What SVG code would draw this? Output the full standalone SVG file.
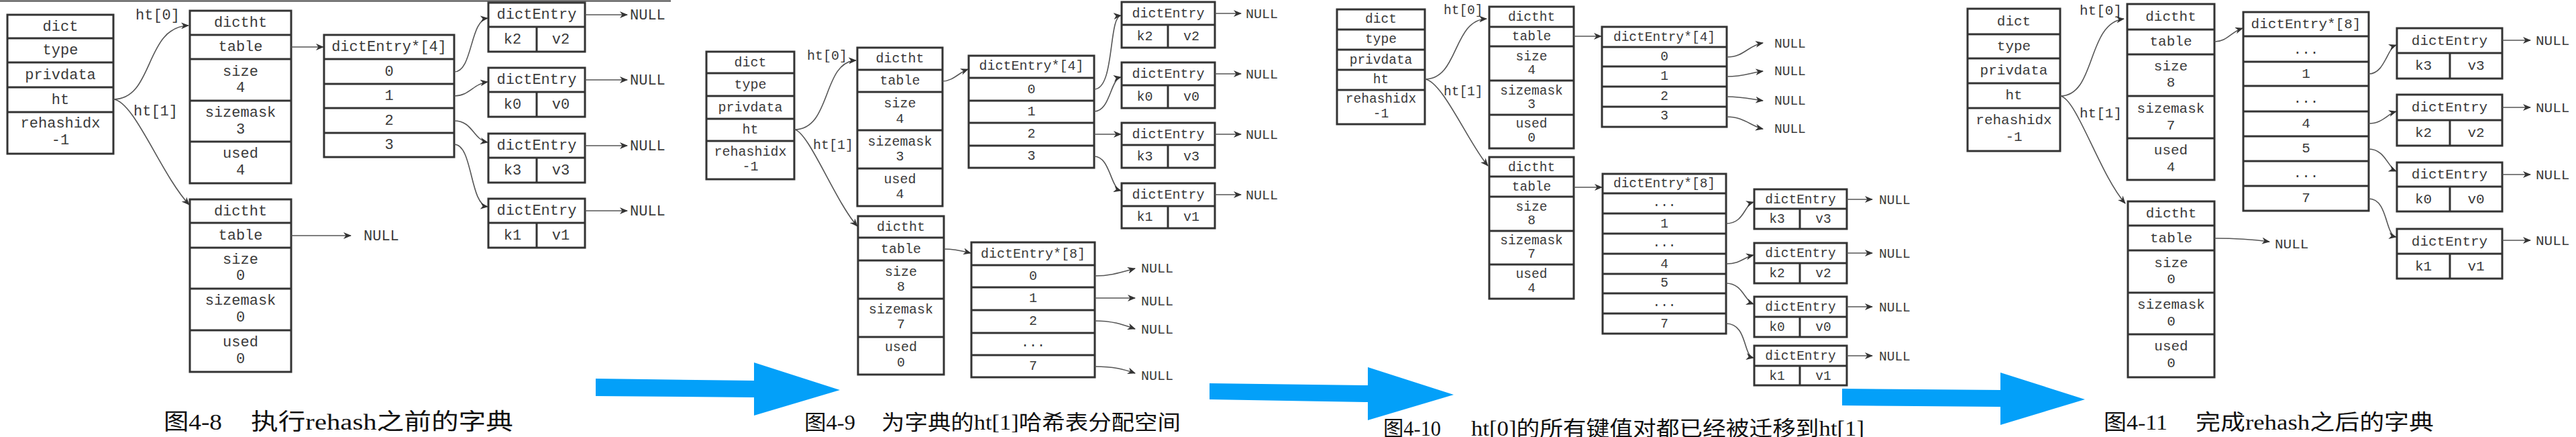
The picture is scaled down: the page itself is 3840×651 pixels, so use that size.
<svg xmlns="http://www.w3.org/2000/svg" width="3840" height="651" viewBox="0 0 3840 651">
<defs>
<style>
.bx{fill:#fff;stroke:#333;stroke-width:3}
.sp{fill:none;stroke:#333;stroke-width:3}
.m{font-family:"Liberation Mono","DejaVu Sans Mono",monospace;fill:#3a3a3a;text-anchor:middle}
.s{text-anchor:start}
.f1{font-size:22px}.f2{font-size:20px}.f3{font-size:19.5px}.f4{font-size:21px}
.c{fill:none;stroke:#555;stroke-width:1.6;marker-end:url(#ah)}
.cap{font-family:"Liberation Serif","Noto Sans CJK SC",serif;fill:#111}
.blue{fill:#03A0F9}
</style>
<marker id="ah" viewBox="0 0 12 10" refX="11" refY="5" markerWidth="12" markerHeight="10" markerUnits="userSpaceOnUse" orient="auto"><path d="M0,0L12,5L0,10L3.5,5z" fill="#333"/></marker>
</defs>
<rect width="3840" height="651" fill="#fff"/>
<line x1="0" y1="1.5" x2="1000" y2="1.5" stroke="#444" stroke-width="2"/>

<!-- Panel 1 -->
<g id="p1-dict" class="m f1">
<rect class="bx" x="11" y="22" width="158" height="207"/>
<path class="sp" d="M11,57H169M11,93H169M11,130H169M11,167H169"/>
<text x="90" y="46">dict</text><text x="90" y="81">type</text><text x="90" y="118">privdata</text><text x="90" y="155">ht</text><text x="90" y="190">rehashidx</text><text x="90" y="215">-1</text>
</g>
<g id="p1-ht0" class="m f1">
<rect class="bx" x="283" y="16" width="151" height="257"/>
<path class="sp" d="M283,52H434M283,88H434M283,150H434M283,211H434"/>
<text x="358.5" y="40">dictht</text><text x="358.5" y="76">table</text><text x="358.5" y="113">size</text><text x="358.5" y="137">4</text><text x="358.5" y="174">sizemask</text><text x="358.5" y="199">3</text><text x="358.5" y="235">used</text><text x="358.5" y="260">4</text>
</g>
<g id="p1-ht1" class="m f1">
<rect class="bx" x="283" y="297" width="151" height="257"/>
<path class="sp" d="M283,332H434M283,369H434M283,430H434M283,492H434"/>
<text x="358.5" y="321">dictht</text><text x="358.5" y="357">table</text><text x="358.5" y="393">size</text><text x="358.5" y="417">0</text><text x="358.5" y="454">sizemask</text><text x="358.5" y="479">0</text><text x="358.5" y="516">used</text><text x="358.5" y="541">0</text>
</g>
<g id="p1-tab4" class="m f1">
<rect class="bx" x="483" y="52" width="194" height="182"/>
<path class="sp" d="M483,88H677M483,125H677M483,161H677M483,198H677"/>
<text x="580" y="76">dictEntry*[4]</text><text x="580" y="113">0</text><text x="580" y="149">1</text><text x="580" y="186">2</text><text x="580" y="222">3</text>
</g>
<g id="p1-e1" class="m f1">
<rect class="bx" x="728" y="4" width="144" height="73"/><path class="sp" d="M728,40H872M800,40V77"/>
<text x="800" y="28">dictEntry</text><text x="764" y="65">k2</text><text x="836" y="65">v2</text>
</g>
<g id="p1-e2" class="m f1">
<rect class="bx" x="728" y="101" width="144" height="73"/><path class="sp" d="M728,137H872M800,137V174"/>
<text x="800" y="125">dictEntry</text><text x="764" y="162">k0</text><text x="836" y="162">v0</text>
</g>
<g id="p1-e3" class="m f1">
<rect class="bx" x="728" y="199" width="144" height="73"/><path class="sp" d="M728,235H872M800,235V272"/>
<text x="800" y="223">dictEntry</text><text x="764" y="260">k3</text><text x="836" y="260">v3</text>
</g>
<g id="p1-e4" class="m f1">
<rect class="bx" x="728" y="296" width="144" height="73"/><path class="sp" d="M728,332H872M800,332V369"/>
<text x="800" y="320">dictEntry</text><text x="764" y="357">k1</text><text x="836" y="357">v1</text>
</g>

<!-- Panel 2 -->
<g id="p2-dict" class="m f2">
<rect class="bx" x="1053" y="77" width="131" height="190"/>
<path class="sp" d="M1053,109H1184M1053,143H1184M1053,177H1184M1053,210H1184"/>
<text x="1118.5" y="99">dict</text><text x="1118.5" y="132">type</text><text x="1118.5" y="166">privdata</text><text x="1118.5" y="199">ht</text><text x="1118.5" y="232">rehashidx</text><text x="1118.5" y="254">-1</text>
</g>
<g id="p2-ht0" class="m f2">
<rect class="bx" x="1278" y="71" width="127" height="236"/>
<path class="sp" d="M1278,104H1405M1278,137H1405M1278,194H1405M1278,251H1405"/>
<text x="1341.5" y="93">dictht</text><text x="1341.5" y="126">table</text><text x="1341.5" y="160">size</text><text x="1341.5" y="183">4</text><text x="1341.5" y="217">sizemask</text><text x="1341.5" y="239">3</text><text x="1341.5" y="273">used</text><text x="1341.5" y="295">4</text>
</g>
<g id="p2-ht1" class="m f2">
<rect class="bx" x="1279" y="322" width="128" height="236"/>
<path class="sp" d="M1279,354H1407M1279,388H1407M1279,445H1407M1279,502H1407"/>
<text x="1343" y="344">dictht</text><text x="1343" y="377">table</text><text x="1343" y="411">size</text><text x="1343" y="433">8</text><text x="1343" y="467">sizemask</text><text x="1343" y="489">7</text><text x="1343" y="523">used</text><text x="1343" y="546">0</text>
</g>
<g id="p2-tab4" class="m f2">
<rect class="bx" x="1444" y="83" width="187" height="167"/>
<path class="sp" d="M1444,116H1631M1444,150H1631M1444,183H1631M1444,217H1631"/>
<text x="1537.5" y="104">dictEntry*[4]</text><text x="1537.5" y="139">0</text><text x="1537.5" y="172">1</text><text x="1537.5" y="205">2</text><text x="1537.5" y="238">3</text>
</g>
<g id="p2-tab8" class="m f2">
<rect class="bx" x="1448" y="361" width="184" height="201"/>
<path class="sp" d="M1448,395H1632M1448,428H1632M1448,462H1632M1448,496H1632M1448,529H1632"/>
<text x="1540" y="384">dictEntry*[8]</text><text x="1540" y="417">0</text><text x="1540" y="450">1</text><text x="1540" y="484">2</text><text x="1540" y="516">...</text><text x="1540" y="551">7</text>
</g>
<g id="p2-e1" class="m f2">
<rect class="bx" x="1672" y="3" width="139" height="68"/><path class="sp" d="M1672,37H1811M1741,37V71"/>
<text x="1741.5" y="26">dictEntry</text><text x="1706.5" y="60">k2</text><text x="1776" y="60">v2</text>
</g>
<g id="p2-e2" class="m f2">
<rect class="bx" x="1672" y="93" width="139" height="68"/><path class="sp" d="M1672,127H1811M1741,127V161"/>
<text x="1741.5" y="116">dictEntry</text><text x="1706.5" y="150">k0</text><text x="1776" y="150">v0</text>
</g>
<g id="p2-e3" class="m f2">
<rect class="bx" x="1672" y="183" width="139" height="67"/><path class="sp" d="M1672,216H1811M1741,216V250"/>
<text x="1741.5" y="206">dictEntry</text><text x="1706.5" y="239">k3</text><text x="1776" y="239">v3</text>
</g>
<g id="p2-e4" class="m f2">
<rect class="bx" x="1672" y="273" width="139" height="67"/><path class="sp" d="M1672,307H1811M1741,307V340"/>
<text x="1741.5" y="296">dictEntry</text><text x="1706.5" y="329">k1</text><text x="1776" y="329">v1</text>
</g>

<!-- Panel 3 -->
<g id="p3-dict" class="m f3">
<rect class="bx" x="1993" y="14" width="131" height="171"/>
<path class="sp" d="M1993,44H2124M1993,74H2124M1993,104H2124M1993,134H2124"/>
<text x="2058.5" y="34">dict</text><text x="2058.5" y="64">type</text><text x="2058.5" y="95">privdata</text><text x="2058.5" y="124">ht</text><text x="2058.5" y="153">rehashidx</text><text x="2058.5" y="175">-1</text>
</g>
<g id="p3-ht0" class="m f3">
<rect class="bx" x="2220" y="10" width="126" height="211"/>
<path class="sp" d="M2220,40H2346M2220,69H2346M2220,120H2346M2220,171H2346"/>
<text x="2283" y="31">dictht</text><text x="2283" y="60">table</text><text x="2283" y="90">size</text><text x="2283" y="110">4</text><text x="2283" y="141">sizemask</text><text x="2283" y="161">3</text><text x="2283" y="190">used</text><text x="2283" y="211">0</text>
</g>
<g id="p3-ht1" class="m f3">
<rect class="bx" x="2220" y="234" width="126" height="211"/>
<path class="sp" d="M2220,263H2346M2220,293H2346M2220,344H2346M2220,394H2346"/>
<text x="2283" y="255">dictht</text><text x="2283" y="284">table</text><text x="2283" y="314">size</text><text x="2283" y="334">8</text><text x="2283" y="364">sizemask</text><text x="2283" y="384">7</text><text x="2283" y="414">used</text><text x="2283" y="435">4</text>
</g>
<g id="p3-tab4" class="m f3">
<rect class="bx" x="2388" y="40" width="186" height="149"/>
<path class="sp" d="M2388,70H2574M2388,99H2574M2388,129H2574M2388,159H2574"/>
<text x="2481" y="61">dictEntry*[4]</text><text x="2481" y="90">0</text><text x="2481" y="119">1</text><text x="2481" y="149">2</text><text x="2481" y="178">3</text>
</g>
<g id="p3-tab8" class="m f3">
<rect class="bx" x="2389" y="259" width="184" height="238"/>
<path class="sp" d="M2389,288H2573M2389,318H2573M2389,348H2573M2389,378H2573M2389,408H2573M2389,437H2573M2389,467H2573"/>
<text x="2481" y="279">dictEntry*[8]</text><text x="2481" y="307">...</text><text x="2481" y="339">1</text><text x="2481" y="367">...</text><text x="2481" y="399">4</text><text x="2481" y="427">5</text><text x="2481" y="456">...</text><text x="2481" y="488">7</text>
</g>
<g id="p3-e1" class="m f3">
<rect class="bx" x="2615" y="282" width="138" height="59"/><path class="sp" d="M2615,311H2753M2683,311V341"/>
<text x="2684" y="303">dictEntry</text><text x="2649" y="332">k3</text><text x="2718" y="332">v3</text>
</g>
<g id="p3-e2" class="m f3">
<rect class="bx" x="2615" y="362" width="138" height="60"/><path class="sp" d="M2615,392H2753M2683,392V422"/>
<text x="2684" y="383">dictEntry</text><text x="2649" y="413">k2</text><text x="2718" y="413">v2</text>
</g>
<g id="p3-e3" class="m f3">
<rect class="bx" x="2615" y="442" width="138" height="60"/><path class="sp" d="M2615,472H2753M2683,472V502"/>
<text x="2684" y="463">dictEntry</text><text x="2649" y="493">k0</text><text x="2718" y="493">v0</text>
</g>
<g id="p3-e4" class="m f3">
<rect class="bx" x="2615" y="515" width="138" height="59"/><path class="sp" d="M2615,545H2753M2683,545V574"/>
<text x="2684" y="536">dictEntry</text><text x="2649" y="566">k1</text><text x="2718" y="566">v1</text>
</g>

<!-- Panel 4 -->
<g id="p4-dict" class="m f4">
<rect class="bx" x="2933" y="13" width="138" height="212"/>
<path class="sp" d="M2933,51H3071M2933,87H3071M2933,124H3071M2933,161H3071"/>
<text x="3002" y="38">dict</text><text x="3002" y="75">type</text><text x="3002" y="111">privdata</text><text x="3002" y="148">ht</text><text x="3002" y="185">rehashidx</text><text x="3002" y="210">-1</text>
</g>
<g id="p4-ht0" class="m f4">
<rect class="bx" x="3171" y="6" width="130" height="262"/>
<path class="sp" d="M3171,44H3301M3171,81H3301M3171,143H3301M3171,206H3301"/>
<text x="3236" y="31">dictht</text><text x="3236" y="68">table</text><text x="3236" y="105">size</text><text x="3236" y="129">8</text><text x="3236" y="168">sizemask</text><text x="3236" y="193">7</text><text x="3236" y="230">used</text><text x="3236" y="255">4</text>
</g>
<g id="p4-ht1" class="m f4">
<rect class="bx" x="3172" y="300" width="129" height="262"/>
<path class="sp" d="M3172,336H3301M3172,373H3301M3172,436H3301M3172,498H3301"/>
<text x="3236.5" y="324">dictht</text><text x="3236.5" y="361">table</text><text x="3236.5" y="398">size</text><text x="3236.5" y="422">0</text><text x="3236.5" y="460">sizemask</text><text x="3236.5" y="485">0</text><text x="3236.5" y="522">used</text><text x="3236.5" y="547">0</text>
</g>
<g id="p4-tab8" class="m f4">
<rect class="bx" x="3344" y="18" width="187" height="296"/>
<path class="sp" d="M3344,54H3531M3344,92H3531M3344,128H3531M3344,166H3531M3344,203H3531M3344,240H3531M3344,277H3531"/>
<text x="3437.5" y="42">dictEntry*[8]</text><text x="3437.5" y="80">...</text><text x="3437.5" y="116">1</text><text x="3437.5" y="153">...</text><text x="3437.5" y="190">4</text><text x="3437.5" y="227">5</text><text x="3437.5" y="264">...</text><text x="3437.5" y="301">7</text>
</g>
<g id="p4-e1" class="m f4">
<rect class="bx" x="3573" y="42" width="157" height="75"/><path class="sp" d="M3573,79H3730M3652,79V117"/>
<text x="3651.5" y="67">dictEntry</text><text x="3612.5" y="104">k3</text><text x="3691" y="104">v3</text>
</g>
<g id="p4-e2" class="m f4">
<rect class="bx" x="3573" y="141" width="157" height="76"/><path class="sp" d="M3573,179H3730M3652,179V217"/>
<text x="3651.5" y="166">dictEntry</text><text x="3612.5" y="204">k2</text><text x="3691" y="204">v2</text>
</g>
<g id="p4-e3" class="m f4">
<rect class="bx" x="3573" y="242" width="157" height="73"/><path class="sp" d="M3573,278H3730M3652,278V315"/>
<text x="3651.5" y="266">dictEntry</text><text x="3612.5" y="303">k0</text><text x="3691" y="303">v0</text>
</g>
<g id="p4-e4" class="m f4">
<rect class="bx" x="3573" y="341" width="157" height="74"/><path class="sp" d="M3573,378H3730M3652,378V415"/>
<text x="3651.5" y="366">dictEntry</text><text x="3612.5" y="403">k1</text><text x="3691" y="403">v1</text>
</g>

<!-- Connectors -->
<g id="connectors">
<path class="c" d="M169,148C230,148 215,40 281,38"/>
<path class="c" d="M169,148C200,150 240,260 282,305"/>
<path class="c" d="M434,70H482"/>
<path class="c" d="M434,351H523"/>
<path class="c" d="M677,107C705,107 700,30 727,27"/>
<path class="c" d="M677,143C700,143 705,125 727,122"/>
<path class="c" d="M677,180C705,180 705,208 727,212"/>
<path class="c" d="M677,215C705,215 700,305 727,308"/>
<path class="c" d="M872,22H935"/><path class="c" d="M872,119H935"/><path class="c" d="M872,217H935"/><path class="c" d="M872,314H935"/>

<path class="c" d="M1184,193C1240,193 1225,92 1276,90"/>
<path class="c" d="M1184,193C1205,195 1245,300 1278,337"/>
<path class="c" d="M1405,121C1420,121 1430,108 1443,103"/>
<path class="c" d="M1631,133C1662,133 1652,25 1671,23"/>
<path class="c" d="M1631,166C1655,166 1655,118 1671,115"/>
<path class="c" d="M1631,200H1671"/>
<path class="c" d="M1631,233C1655,233 1655,280 1671,284"/>
<path class="c" d="M1811,20H1850"/><path class="c" d="M1811,110H1850"/><path class="c" d="M1811,200H1850"/><path class="c" d="M1811,290H1850"/>
<path class="c" d="M1407,371C1425,371 1435,374 1447,377"/>
<path class="c" d="M1632,411C1655,411 1670,406 1692,400"/>
<path class="c" d="M1632,444H1692"/>
<path class="c" d="M1632,478C1660,478 1675,484 1692,490"/>
<path class="c" d="M1632,546C1660,546 1675,550 1692,556"/>

<path class="c" d="M2124,118C2175,118 2165,30 2216,28"/>
<path class="c" d="M2124,118C2150,120 2190,215 2218,247"/>
<path class="c" d="M2346,54H2387"/>
<path class="c" d="M2346,279H2388"/>
<path class="c" d="M2574,85C2600,85 2605,68 2628,64"/>
<path class="c" d="M2574,114C2600,114 2610,108 2628,106"/>
<path class="c" d="M2574,144C2600,144 2610,148 2628,150"/>
<path class="c" d="M2574,174C2600,174 2610,188 2628,192"/>
<path class="c" d="M2573,333C2600,333 2600,305 2614,301"/>
<path class="c" d="M2573,393C2595,393 2600,383 2614,380"/>
<path class="c" d="M2573,422C2598,422 2600,448 2614,453"/>
<path class="c" d="M2573,482C2605,482 2598,530 2614,533"/>
<path class="c" d="M2753,297H2791"/><path class="c" d="M2753,377H2791"/><path class="c" d="M2753,457H2791"/><path class="c" d="M2753,530H2791"/>

<path class="c" d="M3071,143C3125,143 3110,35 3166,28"/>
<path class="c" d="M3071,143C3095,145 3130,260 3168,303"/>
<path class="c" d="M3301,62C3320,62 3325,48 3343,42"/>
<path class="c" d="M3531,110C3555,110 3558,72 3572,67"/>
<path class="c" d="M3531,184C3552,184 3558,170 3572,166"/>
<path class="c" d="M3531,222C3555,222 3560,250 3572,255"/>
<path class="c" d="M3531,296C3560,296 3555,350 3572,353"/>
<path class="c" d="M3730,60H3772"/><path class="c" d="M3730,160H3772"/><path class="c" d="M3730,260H3772"/><path class="c" d="M3730,358H3772"/>
<path class="c" d="M3301,355C3340,355 3360,357 3383,360"/>

<g class="m s f1"><text x="202" y="29">ht[0]</text><text x="199" y="172">ht[1]</text></g>
<g class="m s f2"><text x="1203" y="89">ht[0]</text><text x="1212" y="222">ht[1]</text></g>
<g class="m s f3"><text x="2152" y="21">ht[0]</text><text x="2152" y="142">ht[1]</text></g>
<g class="m s f4"><text x="3100" y="22">ht[0]</text><text x="3100" y="175">ht[1]</text></g>
</g>

<g id="nulls" class="m s">
<g class="f1"><text x="542" y="358">NULL</text><text x="939" y="29">NULL</text><text x="939" y="126">NULL</text><text x="939" y="224">NULL</text><text x="939" y="321">NULL</text></g>
<g class="f2"><text x="1857" y="27">NULL</text><text x="1857" y="117">NULL</text><text x="1857" y="207">NULL</text><text x="1857" y="297">NULL</text><text x="1701" y="406">NULL</text><text x="1701" y="455">NULL</text><text x="1701" y="497">NULL</text><text x="1701" y="566">NULL</text></g>
<g class="f3"><text x="2645" y="71">NULL</text><text x="2645" y="112">NULL</text><text x="2645" y="156">NULL</text><text x="2645" y="198">NULL</text><text x="2801" y="304">NULL</text><text x="2801" y="384">NULL</text><text x="2801" y="464">NULL</text><text x="2801" y="537">NULL</text></g>
<g class="f4"><text x="3780" y="67">NULL</text><text x="3780" y="167">NULL</text><text x="3780" y="267">NULL</text><text x="3780" y="365">NULL</text><text x="3391" y="370">NULL</text></g>
</g>

<!-- Blue process arrows -->
<g id="flow-arrows">
<polygon class="blue" points="888,564 1124,567 1124,540 1252,581 1124,619 1124,592 888,590"/>
<polygon class="blue" points="1803,571 2039,574 2039,547 2167,588 2039,626 2039,599 1803,595"/>
<polygon class="blue" points="2746,579 2982,581 2982,555 3108,595 2982,633 2982,606 2746,604"/>
</g>

<!-- Captions -->
<g id="captions" class="cap">
<text x="244" y="640" font-size="34" textLength="87" lengthAdjust="spacingAndGlyphs">图4-8</text>
<text x="374" y="640" font-size="34" textLength="391" lengthAdjust="spacingAndGlyphs">执行rehash之前的字典</text>
<text x="1199" y="640" font-size="31" textLength="76" lengthAdjust="spacingAndGlyphs">图4-9</text>
<text x="1314" y="640" font-size="31" textLength="446" lengthAdjust="spacingAndGlyphs">为字典的ht[1]哈希表分配空间</text>
<text x="2062" y="649" font-size="31" textLength="86" lengthAdjust="spacingAndGlyphs">图4-10</text>
<text x="2193" y="649" font-size="31" textLength="586" lengthAdjust="spacingAndGlyphs">ht[0]的所有键值对都已经被迁移到ht[1]</text>
<text x="3136" y="640" font-size="32" textLength="95" lengthAdjust="spacingAndGlyphs">图4-11</text>
<text x="3273" y="640" font-size="32" textLength="355" lengthAdjust="spacingAndGlyphs">完成rehash之后的字典</text>
</g>
</svg>
